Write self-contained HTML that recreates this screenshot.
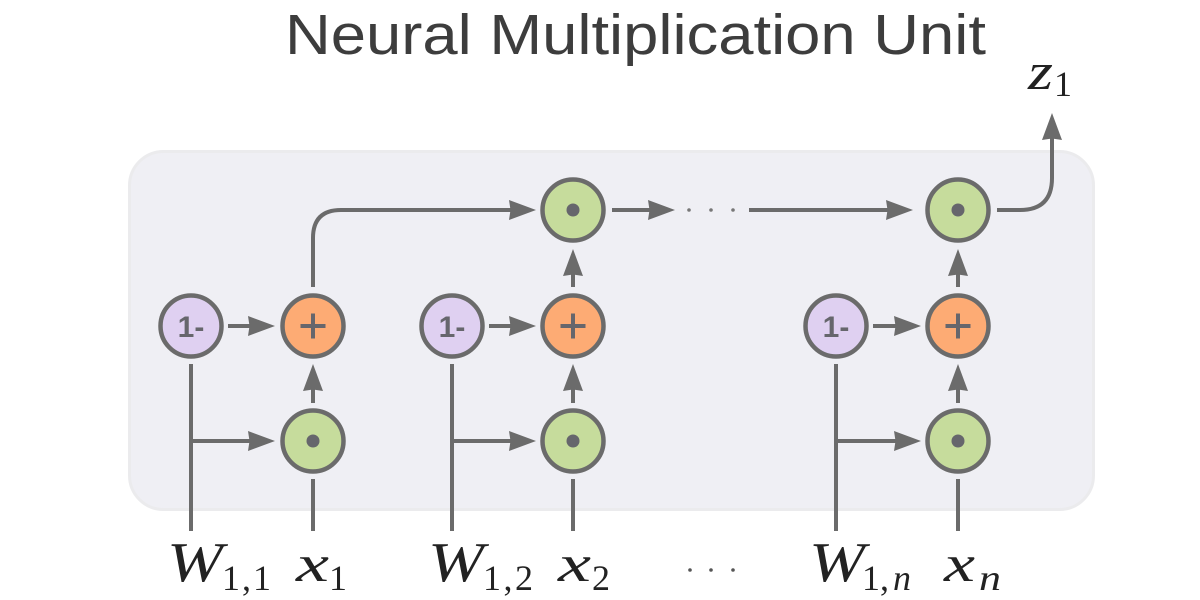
<!DOCTYPE html>
<html><head><meta charset="utf-8"><style>html,body{margin:0;padding:0;background:#fff}svg{display:block}</style></head>
<body>
<svg width="1200" height="600" viewBox="0 0 1200 600" xmlns="http://www.w3.org/2000/svg">
<defs>
<g id="g"><circle r="30.5" fill="#c6dc9c" stroke="#6b6b6b" stroke-width="4.5"/><circle r="6.5" fill="#66666c"/></g>
<g id="o"><circle r="30.5" fill="#fdab74" stroke="#6b6b6b" stroke-width="4.5"/><path d="M-12.5 0H12.5M0-12.5V12.5" stroke="#66666c" stroke-width="4" fill="none"/></g>
<g id="p"><circle r="30.5" fill="#dfd0f1" stroke="#6b6b6b" stroke-width="4.5"/><text x="0" y="11" text-anchor="middle" font-family="Liberation Sans, sans-serif" font-weight="700" font-size="30" fill="#66666c">1-</text></g>
</defs>
<rect x="129.500" y="151.500" width="964" height="358" rx="34" fill="#efeff4" stroke="#ebebed" stroke-width="3"/>
<text x="285" y="54" font-family="Liberation Sans, sans-serif" font-size="57" fill="#3d3d3d" textLength="701" lengthAdjust="spacingAndGlyphs">Neural Multiplication Unit</text>
<g fill="none" stroke="#6b6b6b" stroke-width="4">
<path d="M191 364V531M191 441H250M313 479V531M313 403V385M228 326H250"/>
<path d="M452 364V531M452 441H512M573 479V531M573 403V385M489 326H512M573 287V270"/>
<path d="M836 364V531M836 441H897M958 479V531M958 403V385M873 326H897M958 287V270"/>
<path d="M313 287V238Q313 210 341 210H512M612 210H650M749 210H890M997 210H1020Q1052 210 1052 178V135"/>
</g>
<g fill="#6b6b6b">
<path d="M275 326L248 316L249.500 326L248 336ZM275 441L248 431L249.500 441L248 451ZM313 364L303 391L313 389.500L323 391Z"/>
<path d="M536 326L509 316L510.500 326L509 336ZM536 441L509 431L510.500 441L509 451ZM573 364L563 391L573 389.500L583 391ZM573 249L563 276L573 274.500L583 276ZM536 210L509 200L510.500 210L509 220ZM675 210L648 200L649.500 210L648 220Z"/>
<path d="M921 326L894 316L895.500 326L894 336ZM921 441L894 431L895.500 441L894 451ZM958 364L948 391L958 389.500L968 391ZM958 249L948 276L958 274.500L968 276ZM913 210L886 200L887.500 210L886 220ZM1052 113L1042 140L1052 138.500L1062 140Z"/>
</g>
<circle cx="689" cy="210" r="1.800" fill="#777"/><circle cx="711" cy="210" r="1.800" fill="#777"/><circle cx="733" cy="210" r="1.800" fill="#777"/>
<circle cx="690" cy="570" r="1.800" fill="#555"/><circle cx="711" cy="570" r="1.800" fill="#555"/><circle cx="733" cy="570" r="1.800" fill="#555"/>
<use href="#p" x="191" y="326"/><use href="#o" x="313" y="326"/><use href="#g" x="313" y="441"/>
<use href="#p" x="452" y="326"/><use href="#o" x="573" y="326"/><use href="#g" x="573" y="441"/>
<use href="#p" x="836" y="326"/><use href="#o" x="958" y="326"/><use href="#g" x="958" y="441"/>
<use href="#g" x="573" y="210"/><use href="#g" x="958" y="210"/>
<g font-family="Liberation Serif, serif" fill="#222">
<text x="167" y="581" font-size="56" font-style="italic" textLength="56" lengthAdjust="spacingAndGlyphs">W</text>
<text x="222" y="590" font-size="36" textLength="49" lengthAdjust="spacing">1,1</text>
<text x="296" y="581" font-size="52" font-style="italic" textLength="33" lengthAdjust="spacingAndGlyphs">x</text><text x="329" y="590" font-size="36">1</text>
<text x="428" y="581" font-size="56" font-style="italic" textLength="56" lengthAdjust="spacingAndGlyphs">W</text>
<text x="483" y="590" font-size="36" textLength="50" lengthAdjust="spacing">1,2</text>
<text x="558" y="581" font-size="52" font-style="italic" textLength="33" lengthAdjust="spacingAndGlyphs">x</text><text x="592" y="590" font-size="36">2</text>
<text x="809" y="581" font-size="56" font-style="italic" textLength="56" lengthAdjust="spacingAndGlyphs">W</text>
<text x="862" y="590" font-size="36">1,<tspan font-style="italic" dx="4">n</tspan></text>
<text x="944" y="581" font-size="52" font-style="italic" textLength="31" lengthAdjust="spacingAndGlyphs">x</text><text x="979" y="590" font-size="36" font-style="italic" textLength="22" lengthAdjust="spacingAndGlyphs">n</text>
<text x="1028" y="89" font-size="52" font-style="italic" textLength="25" lengthAdjust="spacingAndGlyphs">z</text><text x="1054" y="96" font-size="36">1</text>
</g>
</svg>
</body></html>
